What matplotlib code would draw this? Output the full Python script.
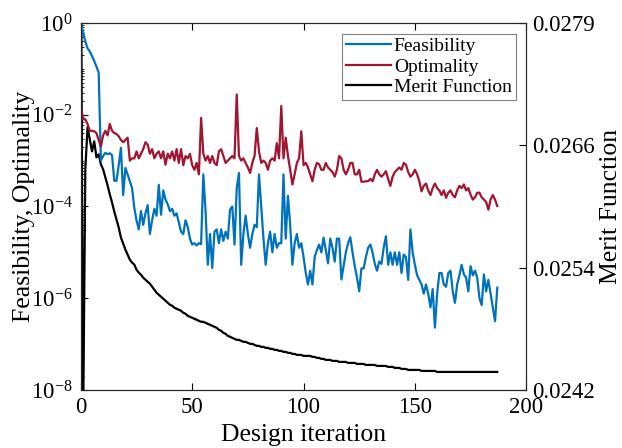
import numpy as np
import matplotlib
matplotlib.use("Agg")
import matplotlib.pyplot as plt
from matplotlib.ticker import LogLocator, FixedLocator, FormatStrFormatter, NullFormatter

plt.rcParams["font.family"] = ["Liberation Serif", "DejaVu Serif"]
plt.rcParams["mathtext.fontset"] = "custom"
plt.rcParams["mathtext.rm"] = "Liberation Serif"
plt.rcParams["mathtext.it"] = "Liberation Serif:italic"

# log10 of feasibility, one value per design iteration
feas_log10 = [
    0.0, -0.2, -0.4, -0.55, -0.62, -0.72, -0.83, -0.95, -1.08, -3.0,
    -2.9, -2.83, -2.86, -2.84, -2.88, -3.44, -3.44, -3.1, -2.72, -3.75,
    -3.16, -3.3, -3.45, -3.6, -4.03, -4.3, -4.5, -4.1, -4.4, -4.15,
    -3.97, -4.6, -4.3, -4.05, -4.2, -3.53, -4.18, -3.65, -3.85, -3.95,
    -4.1, -4.05, -4.2, -4.15, -4.35, -4.55, -4.6, -4.3, -4.45, -4.7,
    -4.83, -4.8, -4.85, -4.8, -4.82, -3.3, -4.1, -5.27, -4.6, -5.34,
    -4.55, -4.5, -4.8, -4.5, -4.75, -4.55, -4.7, -4.07, -4.0, -4.83,
    -3.6, -3.27, -5.27, -4.6, -4.2, -4.6, -4.9, -4.6, -4.4, -4.45,
    -3.3, -4.0, -4.7, -5.27, -4.8, -4.55, -5.0, -4.6, -4.9, -4.8,
    -4.8, -3.3, -4.7, -3.77, -4.4, -5.27, -4.8, -4.6, -4.9, -4.8,
    -5.1, -5.45, -5.7, -5.4, -5.7, -5.1, -4.95, -4.83, -5.0, -4.68,
    -4.95, -5.24, -4.7, -4.9, -5.2, -4.7, -4.7, -5.59, -5.3, -5.0,
    -4.8, -4.67, -5.0, -5.3, -5.55, -5.85, -5.35, -5.35, -5.1, -4.9,
    -4.83, -5.0, -5.25, -5.4, -5.2, -5.25, -4.9, -4.65, -5.27, -5.0,
    -5.27, -5.0, -5.27, -5.0, -5.45, -5.05, -5.1, -5.6, -4.5, -5.0,
    -5.27, -5.5, -5.6, -5.7, -5.9, -5.7, -5.9, -6.2, -5.8, -6.64,
    -5.9, -5.45, -5.45, -5.7, -5.75, -5.45, -5.4, -5.85, -6.1, -5.7,
    -5.5, -5.27, -5.48, -5.55, -5.85, -5.3, -5.5, -5.4, -5.55, -6.0,
    -6.15, -5.48, -5.85, -5.6, -5.9, -6.2, -6.5, -5.77,
]

# log10 of optimality
opt_log10 = [
    -1.8, -2.1, -2.1, -2.2, -2.35, -2.35, -2.36, -2.4, -2.55, -2.69,
    -2.45, -2.35, -2.45, -2.2, -2.35, -2.4, -2.42, -2.47, -2.55, -2.6,
    -2.55, -2.5, -3.0, -2.95, -2.95, -2.8, -2.95, -2.85, -2.75, -2.6,
    -2.65, -2.85, -2.75, -2.95, -2.85, -2.8, -2.95, -2.8, -3.09, -2.85,
    -2.95, -2.8, -3.0, -2.75, -3.05, -2.75, -3.1, -2.9, -2.95, -2.85,
    -3.1, -3.2, -3.05, -3.3, -2.07, -2.85, -3.0, -2.9, -3.05, -2.9,
    -3.05, -3.1, -2.8, -2.75, -2.9, -3.05, -3.0, -2.95, -2.9, -2.95,
    -1.56, -2.9, -3.0, -2.95, -3.05, -3.15, -3.27, -3.05, -2.9, -2.29,
    -2.8, -3.05, -3.0, -3.05, -3.2, -3.0, -2.95, -3.0, -2.62, -2.95,
    -1.81, -2.95, -2.5, -2.9, -3.2, -3.52, -3.3, -3.05, -2.95, -2.36,
    -3.1, -3.05, -3.15, -3.3, -3.45, -3.2, -3.05, -3.08, -3.2, -3.2,
    -3.05, -3.15, -3.2, -3.25, -3.35, -3.2, -2.9, -2.95, -3.2, -3.3,
    -3.2, -3.05, -3.05, -3.3, -3.3, -3.2, -3.46, -3.46, -3.45, -3.45,
    -3.4, -3.45, -3.3, -3.2, -3.3, -3.35, -3.3, -3.23, -3.4, -3.55,
    -3.35, -3.25, -3.2, -3.15, -3.2, -3.05, -3.09, -3.25, -3.35, -3.3,
    -3.2, -3.3, -3.45, -3.67, -3.55, -3.5, -3.65, -3.75, -3.6, -3.5,
    -3.6, -3.65, -3.75, -3.65, -3.81, -3.7, -3.65, -3.75, -3.8, -3.65,
    -3.55, -3.6, -3.52, -3.65, -3.6, -3.74, -3.85, -3.8, -3.7, -3.7,
    -3.8, -3.85, -3.9, -4.07, -3.85, -3.75, -3.85, -3.99,
]

merit = [
    0.0290, 0.0238, 0.02640, 0.02682, 0.02670, 0.02658, 0.02668, 0.02652, 0.02655, 0.02645,
    0.02640, 0.02632, 0.02624, 0.02615, 0.02607, 0.02598, 0.02590, 0.02582, 0.02572, 0.02566,
    0.02560, 0.02555, 0.02550, 0.02547, 0.02545, 0.02540, 0.02537, 0.02535, 0.02532, 0.02530,
    0.02528, 0.02526, 0.02523, 0.02520, 0.02517, 0.02515, 0.02513, 0.02511, 0.02509, 0.02507,
    0.02505, 0.02504, 0.02502, 0.02501, 0.02500, 0.02499, 0.02497, 0.02496, 0.02494, 0.02493,
    0.02492, 0.02491, 0.02490, 0.02489, 0.02488, 0.02488, 0.02487, 0.02486, 0.02485, 0.02484,
    0.02483, 0.02482, 0.02480, 0.02479, 0.02477, 0.02476, 0.02474, 0.02473, 0.02472, 0.02471,
    0.02470, 0.02470, 0.02469, 0.02468, 0.02468, 0.02467, 0.02466, 0.02466, 0.02465, 0.02464,
    0.02464, 0.02463, 0.02463, 0.02462, 0.02462, 0.02461, 0.02461, 0.02460, 0.02460, 0.02459,
    0.02459, 0.02458, 0.02458, 0.02457, 0.02457, 0.02456, 0.02456, 0.02455, 0.02455, 0.02455,
    0.02454, 0.02454, 0.02454, 0.02454, 0.02453, 0.02453, 0.02452, 0.02452, 0.02451, 0.02451,
    0.02450, 0.02450, 0.02450, 0.02449, 0.02449, 0.02449, 0.02448, 0.02448, 0.02448, 0.02448,
    0.02447, 0.02447, 0.02447, 0.02447, 0.02446, 0.02446, 0.02446, 0.02446, 0.02445, 0.02445,
    0.02445, 0.02445, 0.02445, 0.02444, 0.02444, 0.02444, 0.02444, 0.02444, 0.02443, 0.02443,
    0.02443, 0.02442, 0.02442, 0.02442, 0.02441, 0.02441, 0.02441, 0.02440, 0.02440, 0.02440,
    0.02440, 0.02440, 0.02440, 0.02439, 0.02439, 0.02439, 0.02439, 0.02439, 0.02439, 0.02439,
    0.02438, 0.02438, 0.02438, 0.02438, 0.02438, 0.02438, 0.02438, 0.02438, 0.02438, 0.02438,
    0.02438, 0.02438, 0.02438, 0.02438, 0.02438, 0.02438, 0.02438, 0.02438, 0.02438, 0.02438,
    0.02438, 0.02438, 0.02438, 0.02438, 0.02438, 0.02438, 0.02438, 0.02438,
]

iterations = np.arange(len(merit))
feasibility = np.power(10.0, feas_log10)
optimality = np.power(10.0, opt_log10)

blue = "#0072BD"
red = "#A2142F"

fig = plt.figure(figsize=(6.22, 4.48), dpi=100)
ax = fig.add_axes([0.130, 0.1295, 0.716, 0.8192])
ax2 = ax.twinx()

l1, = ax.semilogy(iterations, feasibility, color=blue, lw=1.6, label="Feasibility")
l2, = ax.semilogy(iterations, optimality, color=red, lw=1.6, label="Optimality")
l3, = ax2.plot(iterations, merit, color="black", lw=1.6, label="Merit Function")

ax.set_xlim(0, 200)
ax.set_ylim(1e-8, 1e0)
ax.set_xticks([0, 50, 100, 150, 200])
ax.set_yticks([1e-8, 1e-6, 1e-4, 1e-2, 1e0])
ax.set_yticklabels([r"$10^{-8}$", r"$10^{-6}$", r"$10^{-4}$", r"$10^{-2}$", r"$10^{0}$"])
ax.yaxis.set_minor_locator(LogLocator(base=10, subs=np.arange(1, 10), numticks=100))
ax.yaxis.set_minor_formatter(NullFormatter())

ylo, yhi = 0.0242, 0.02786
ax2.set_ylim(ylo, yhi)
ax2.yaxis.set_major_locator(FixedLocator(np.linspace(ylo, yhi, 4)))
ax2.yaxis.set_major_formatter(FormatStrFormatter("%.4f"))

ax.tick_params(axis="x", which="both", direction="in", top=True, labelsize=16.5, pad=5, length=5)
ax.tick_params(axis="y", which="major", direction="in", labelsize=16.5, length=5, pad=6)
ax.tick_params(axis="y", which="minor", direction="in", length=2.5)
ax2.tick_params(axis="y", direction="in", labelsize=16.5, length=5, pad=4)

for a in (ax, ax2):
    for s in a.spines.values():
        s.set_linewidth(0.8)
        s.set_color("#262626")

# the reference crops this label at the bottom edge; keep it just inside
ax.set_xlabel("Design iteration", fontsize=18.5, labelpad=4.5)
ax.set_ylabel("Feasibility, Optimality", fontsize=18.5, labelpad=-3)
ax2.set_ylabel("Merit Function", fontsize=18.5, labelpad=4)

leg = ax.legend(handles=[l1, l2, l3], loc="upper right", fontsize=14,
                fancybox=False, framealpha=1, edgecolor="#808080",
                handlelength=2.3, handletextpad=0.15, borderpad=0.2,
                labelspacing=0.15, borderaxespad=0.55)
leg.get_frame().set_linewidth(0.8)
leg.set_zorder(10)
ax.set_zorder(ax2.get_zorder() + 1)
ax.patch.set_visible(False)

fig.savefig("out.png", dpi=100)
